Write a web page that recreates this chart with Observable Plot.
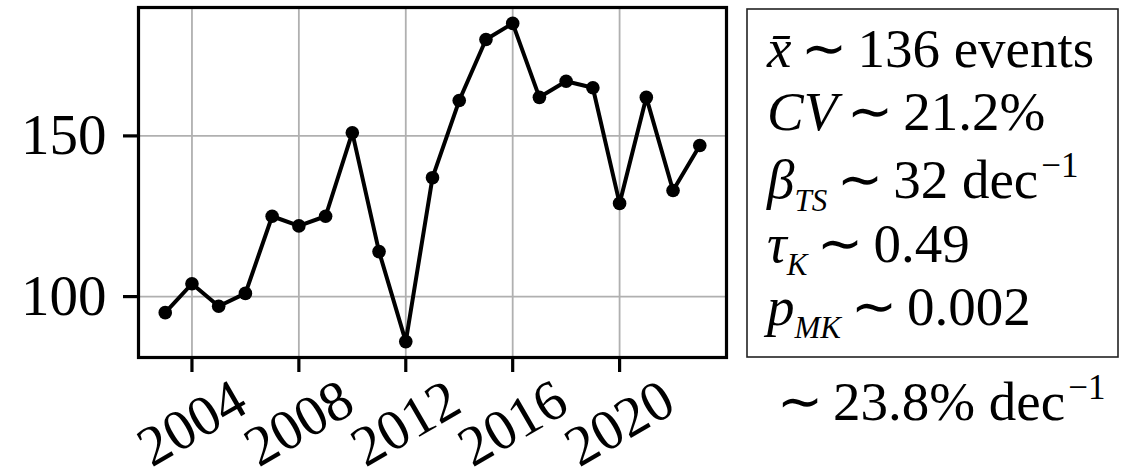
<!DOCTYPE html>
<html>
<head>
<meta charset="utf-8">
<script src="https://cdn.jsdelivr.net/npm/d3@7"></script>
<script src="https://cdn.jsdelivr.net/npm/@observablehq/plot@0.6"></script>
<style>
  html, body { margin: 0; padding: 0; background: #fff; }
  #chart { width: 1140px; height: 472px; }
</style>
</head>
<body>
<div id="chart"></div>
<script>
const years  = [2003, 2004, 2005, 2006, 2007, 2008, 2009, 2010, 2011, 2012, 2013, 2014, 2015, 2016, 2017, 2018, 2019, 2020, 2021, 2022, 2023];
const events = [95, 104, 97, 101, 125, 122, 125, 151, 114, 86, 137, 161, 180, 185, 162, 167, 165, 129, 162, 133, 147];
const xTicks = [2004, 2008, 2012, 2016, 2020];
const yTicks = [100, 150];
const statLines = [
  [{t: "x\u0304", i: true}, {t: "\u223C", rel: true}, {t: "136 events"}],
  [{t: "CV", i: true}, {t: "\u223C", rel: true}, {t: "21.2%"}],
  [{t: "\u03B2", i: true}, {t: "TS", i: true, sub: true}, {t: "\u223C", rel: true}, {t: "32 dec"}, {t: "\u22121", sup: true}],
  [{t: "\u03C4", i: true}, {t: "K", i: true, sub: true}, {t: "\u223C", rel: true}, {t: "0.49"}],
  [{t: "p", i: true}, {t: "MK", i: true, sub: true}, {t: "\u223C", rel: true}, {t: "0.002"}]
];
const statBaselines = [67, 130, 198, 262, 325];
const footLine = [{t: "\u223C", rel: true}, {t: "23.8% dec"}, {t: "\u22121", sup: true}];

const data = years.map((y, i) => ({year: y, value: events[i]}));
const FONT = "'Liberation Serif', 'Times New Roman', serif";
const FS_AXIS = 57;
const FS = 55;
const FS_SUB = 31;
const FS_SUP = 35;

const chart = Plot.plot({
  width: 1140,
  height: 472,
  marginLeft: 138,
  marginRight: 414,
  marginTop: 7,
  marginBottom: 115,
  style: {fontFamily: FONT, fontSize: FS_AXIS + "px", background: "#fff", color: "#000", overflow: "visible"},
  x: {type: "linear", domain: [2002, 2024]},
  y: {domain: [81.05, 189.95]},
  marks: [
    Plot.gridX(xTicks, {stroke: "#b0b0b0", strokeOpacity: 1, strokeWidth: 1.8}),
    Plot.gridY(yTicks, {stroke: "#b0b0b0", strokeOpacity: 1, strokeWidth: 1.8}),
    Plot.line(data, {x: "year", y: "value", stroke: "#000", strokeWidth: 4}),
    Plot.dot(data, {x: "year", y: "value", r: 6.8, fill: "#000", stroke: null}),
    Plot.frame({stroke: "#000", strokeWidth: 3.2}),
    Plot.axisY({ticks: yTicks, tickSize: 15, tickPadding: 17, strokeWidth: 3.2, fontSize: FS_AXIS, tickFormat: d => String(d), label: null}),
    Plot.axisX({ticks: xTicks, tickSize: 15, strokeWidth: 3.2, tickFormat: () => "", label: null}),
    Plot.text(xTicks, {x: d => d, frameAnchor: "bottom", dy: 66, rotate: -30, text: d => String(d), fontSize: FS_AXIS, lineAnchor: "middle", textAnchor: "middle", fill: "#000"})
  ]
});
document.getElementById("chart").appendChild(chart);

// Stats annotation box
const svg = d3.select(chart);
const g = svg.append("g")
  .attr("font-family", FONT)
  .attr("fill", "#000")
  .attr("text-anchor", "start");
g.append("rect")
  .attr("x", 747).attr("y", 9).attr("width", 371).attr("height", 348)
  .attr("fill", "none").attr("stroke", "#222").attr("stroke-width", 1.6);

function writeLine(parts, x, y) {
  const t = g.append("text").attr("x", x).attr("y", y).attr("font-size", FS);
  let shift = 0;
  let prevRel = false;
  parts.forEach((p, idx) => {
    const s = t.append("tspan").text(p.t);
    if (p.i) s.attr("font-style", "italic");
    let dy = 0;
    if (p.sub) { dy = 13 - shift; shift = 13; s.attr("font-size", FS_SUB); }
    else if (p.sup) { dy = -21 - shift; shift = -21; s.attr("font-size", FS_SUP); }
    else { dy = -shift; shift = 0; }
    if (dy !== 0) s.attr("dy", dy);
    if (p.rel) s.attr("dx", idx === 0 ? 0 : 10);
    else if (prevRel) s.attr("dx", 10);
    else if (p.sup) s.attr("dx", 3);
    prevRel = !!p.rel;
  });
  return t;
}
statLines.forEach((line, i) => writeLine(line, 767, statBaselines[i]));
writeLine(footLine, 777, 420);
</script>
</body>
</html>
